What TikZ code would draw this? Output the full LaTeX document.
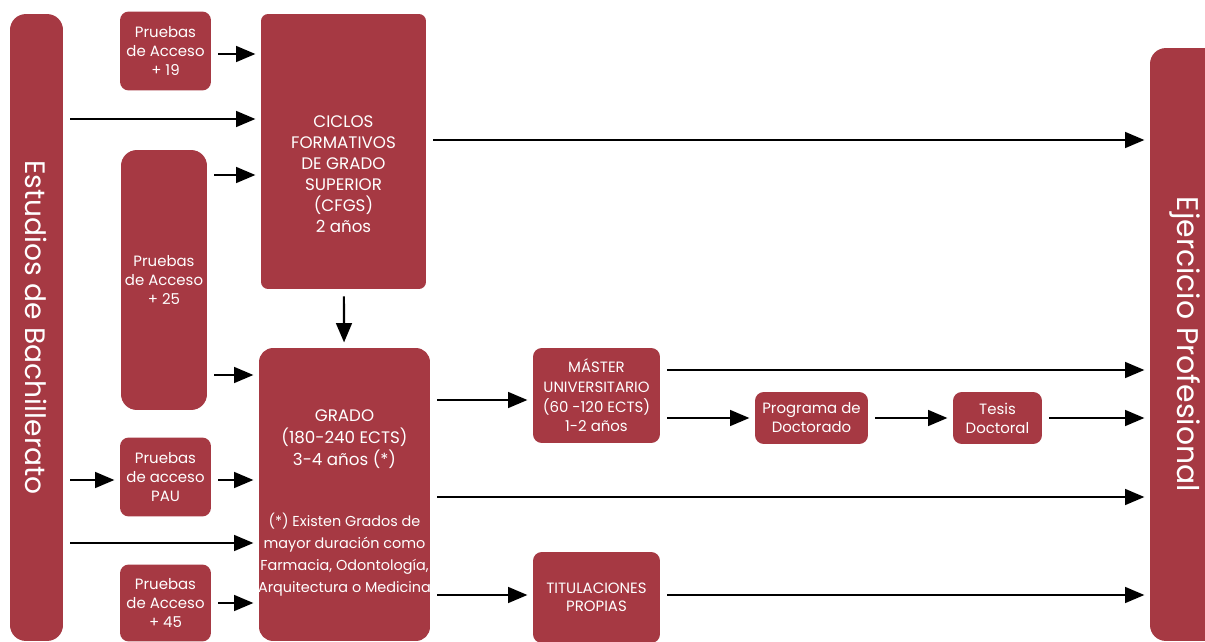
\documentclass[tikz,border=0pt]{standalone}
\usepackage{fontspec}
\setmainfont{Poppins}
\usetikzlibrary{arrows.meta}
\definecolor{boxred}{RGB}{166,57,67}

\begin{document}
\begin{tikzpicture}[x=0.02cm,y=-0.02cm,
    box/.style={fill=boxred,text=white,rounded corners=5pt,align=center,inner sep=0pt,
        font=\fontsize{8.5}{10.8}\selectfont},
    txt/.style={text=white,align=center,inner sep=0pt},
    arr/.style={line width=1.2pt,-{Triangle[length=11pt,width=9pt]},shorten <=4pt,shorten >=3pt}]
    \clip (0,0) rectangle (1205,642);

    % columnas laterales
    \node[box,rounded corners=9pt,minimum width=1.06cm,minimum height=12.54cm,font=\fontsize{16}{18}\selectfont] (bach) at (36.5,327.5) {\rotatebox{-90}{Estudios de Bachillerato}};
    \node[box,rounded corners=9pt,minimum width=1.4cm,minimum height=11.86cm,font=\fontsize{17}{18}\selectfont] (ejer) at (1185,344.5) {\rotatebox{-90}{Ejercicio Profesional}};

    % pruebas de acceso
    \node[box,minimum width=1.82cm,minimum height=1.58cm] (p19) at (165.5,51) {Pruebas\\de Acceso\\+ 19};
    \node[box,rounded corners=9pt,minimum width=1.72cm,minimum height=5.2cm] (p25) at (164,280) {Pruebas\\de Acceso\\+ 25};
    \node[box,minimum width=1.82cm,minimum height=1.58cm] (pau) at (165.5,477) {Pruebas\\de acceso\\PAU};
    \node[box,minimum width=1.82cm,minimum height=1.54cm] (p45) at (165.5,603) {Pruebas\\de Acceso\\+ 45};

    % estudios
    \node[box,rounded corners=4pt,minimum width=3.3cm,minimum height=5.5cm] (cfgs) at (343.5,151.5) {};
    \node[txt,font=\fontsize{9.5}{12}\selectfont] (cfgstxt) at ([yshift=-0.45cm]cfgs.center) {CICLOS\\FORMATIVOS\\DE GRADO\\SUPERIOR\\(CFGS)\\2 años};
    \node[box,rounded corners=8pt,minimum width=3.42cm,minimum height=5.86cm] (grado) at (344.5,494.5) {};
    \node[txt,font=\fontsize{9.5}{12.5}\selectfont] (gradotxt) at ([yshift=-0.17cm]grado.center) {GRADO\\(180-240 ECTS)\\3-4 años (*)\\[22pt]\fontsize{8.2}{11.3}\selectfont(*) Existen Grados de\\\fontsize{8.2}{11.3}\selectfont mayor duración como\\\fontsize{8.2}{11.3}\selectfont Farmacia, Odontología,\\\fontsize{8.2}{11.3}\selectfont Arquitectura o Medicina};
    \node[box,minimum width=2.54cm,minimum height=1.9cm,font=\fontsize{8.5}{11.2}\selectfont] (master) at (596.5,395.5) {MÁSTER\\UNIVERSITARIO\\(60 -120 ECTS)\\1-2 años};
    \node[box,minimum width=2.26cm,minimum height=1.04cm] (prog) at (811.5,418) {Programa de\\Doctorado};
    \node[box,minimum width=1.78cm,minimum height=1.04cm] (tesis) at (997.5,418) {Tesis\\Doctoral};
    \node[box,minimum width=2.54cm,minimum height=1.82cm,font=\fontsize{8.5}{10.5}\selectfont] (titul) at (596.5,597.5) {TITULACIONES\\PROPIAS};

    % accesos
    \draw[arr] (p19.east |- 0,54) -- (cfgs.west |- 0,54);
    \draw[arr] (bach.east |- 0,119) -- (cfgs.west |- 0,119);
    \draw[arr] (p25.east |- 0,175) -- (cfgs.west |- 0,175);
    \draw[arr] (cfgs) -- (grado);
    \draw[arr] (p25.east |- 0,375) -- (grado.west |- 0,375);
    \draw[arr] (bach.east |- 0,480) -- (pau.west |- 0,480);
    \draw[arr] (pau.east |- 0,480) -- (grado.west |- 0,480);
    \draw[arr] (bach.east |- 0,543) -- (grado.west |- 0,543);
    \draw[arr] (p45) -- (grado.west |- p45);

    % salidas
    \draw[arr] (cfgs.east |- 0,140) -- (ejer.west |- 0,140);
    \draw[arr] (grado.east |- 0,400) -- (master.west |- 0,400);
    \draw[arr] (master.east |- 0,370) -- (ejer.west |- 0,370);
    \draw[arr] (master.east |- prog) -- (prog);
    \draw[arr] (prog) -- (tesis);
    \draw[arr] (tesis) -- (ejer.west |- tesis);
    \draw[arr] (grado.east |- 0,497) -- (ejer.west |- 0,497);
    \draw[arr] (grado.east |- 0,595) -- (titul.west |- 0,595);
    \draw[arr] (titul.east |- 0,595) -- (ejer.west |- 0,595);
\end{tikzpicture}
\end{document}
